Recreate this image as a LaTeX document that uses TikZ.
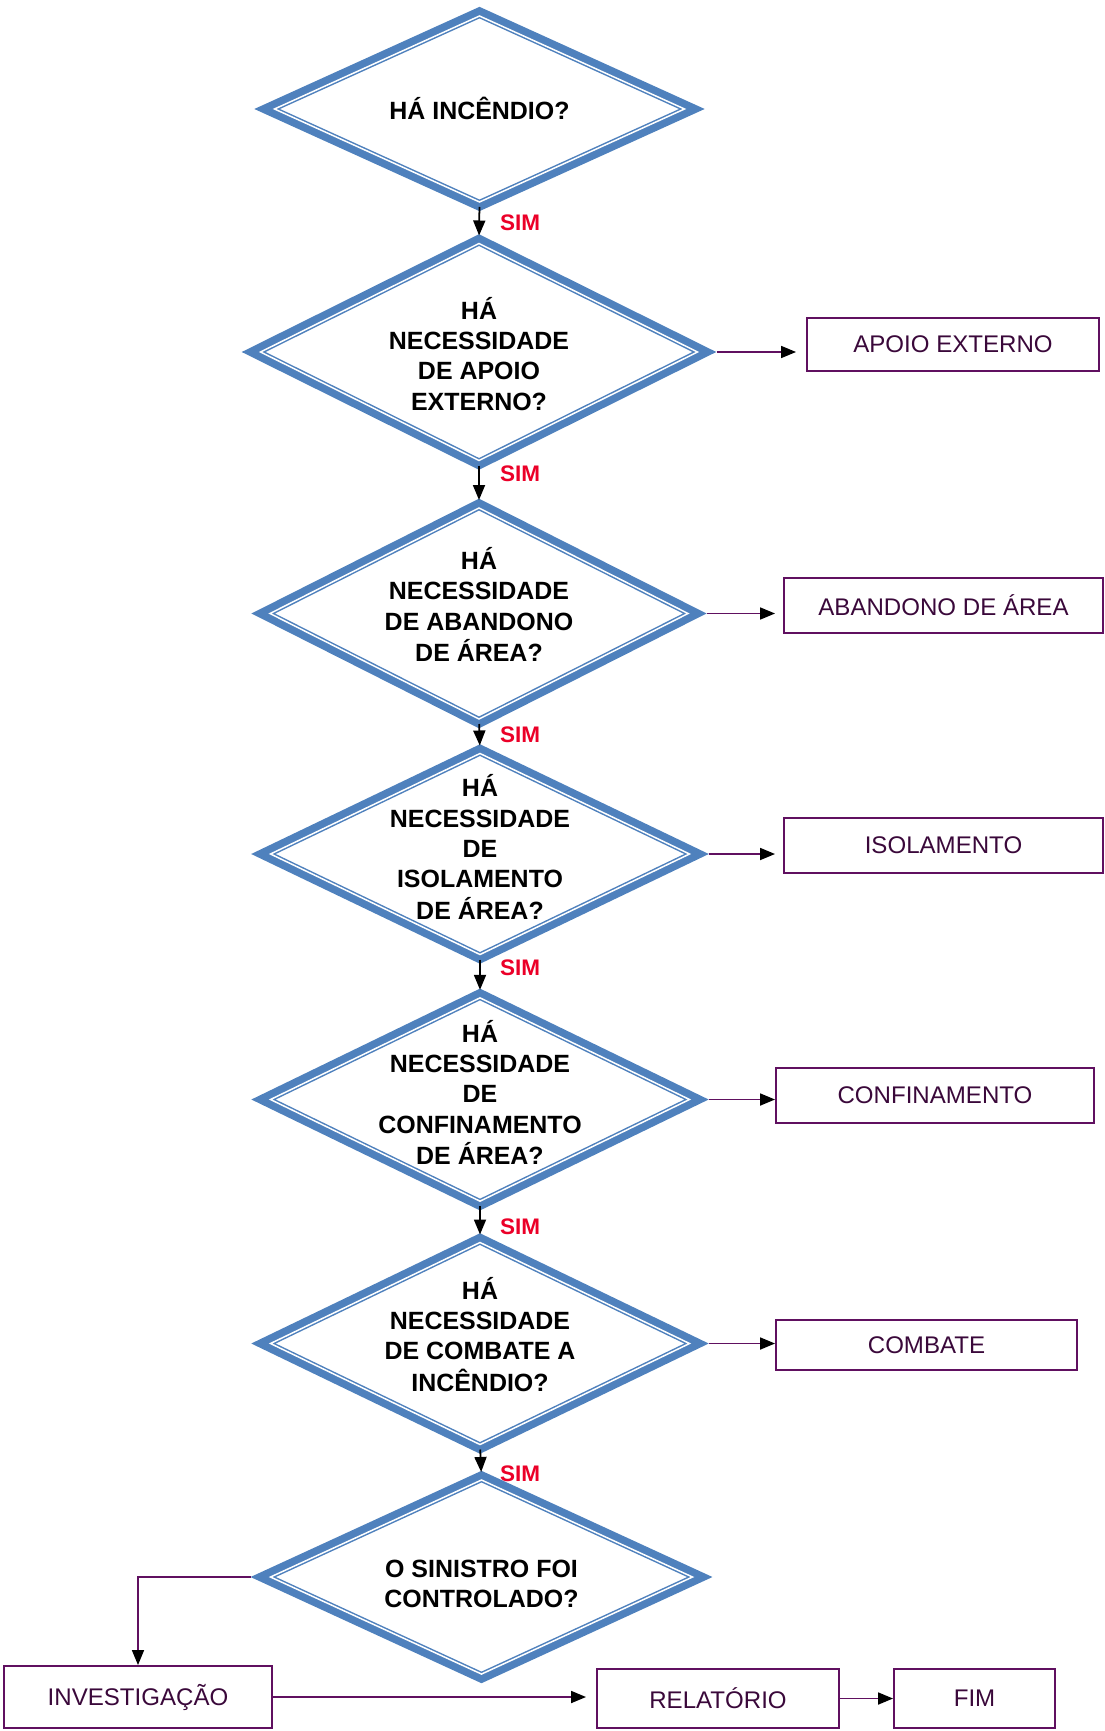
\documentclass[tikz,border=0pt]{standalone}
\usepackage{fontspec}
\setmainfont{Liberation Sans}
\usepackage{tikz}
\usetikzlibrary{positioning,arrows.meta,shapes.geometric}
\definecolor{azul}{RGB}{79,129,189}
\definecolor{roxo}{RGB}{96,16,96}
\definecolor{roxotexto}{RGB}{58,8,58}
\definecolor{vermelho}{RGB}{235,0,40}
\newcommand{\pergunta}[2][-4pt]{\smash{\raisebox{#1}{\begin{tabular}{@{}c@{}}#2\end{tabular}}}}

\begin{document}
\begin{tikzpicture}[>={Triangle[length=3mm,width=2.4mm]},
  decisao/.style={diamond, draw=azul, line width=0.85pt, double=white, double distance=0.85pt,
    fill=white, preaction={draw=azul, line width=9.5pt}, inner sep=0pt, outer sep=0pt,
    font=\bfseries\fontsize{14.2}{17.3}\selectfont},
  acao/.style={draw=roxo, line width=1.1pt, text=roxotexto, inner sep=0pt,
    font=\fontsize{13.7}{16}\selectfont},
  sim/.style={text=vermelho, font=\bfseries\fontsize{12.8}{15}\selectfont},
  seta/.style={->, line width=1pt},
  liga/.style={-{Triangle[length=3mm,width=2.4mm,color=black]}, draw=roxo, line width=1pt}]

\useasboundingbox (0,0) rectangle (22.08,-34.62);

% ---------------- Decisoes ----------------
\node[decisao, minimum width=8.2cm, minimum height=3.72cm] (incendio) at (9.59,-2.18)
  {\pergunta[-5.9pt]{HÁ INCÊNDIO?}};
\node[decisao, minimum width=8.74cm, minimum height=4.34cm] (nApoio) at (9.58,-7.04)
  {\pergunta[-7.1pt]{HÁ\\NECESSIDADE\\DE APOIO\\EXTERNO?}};
\node[decisao, minimum width=8.36cm, minimum height=4.22cm] (nAbandono) at (9.58,-12.27)
  {\pergunta[-0.9pt]{HÁ\\NECESSIDADE\\DE ABANDONO\\DE ÁREA?}};
\node[decisao, minimum width=8.38cm, minimum height=4.02cm] (nIsolamento) at (9.60,-17.08)
  {\pergunta[-2.1pt]{HÁ\\NECESSIDADE\\DE\\ISOLAMENTO\\DE ÁREA?}};
\node[decisao, minimum width=8.38cm, minimum height=4.04cm] (nConfinamento) at (9.60,-21.99)
  {\pergunta[-2.1pt]{HÁ\\NECESSIDADE\\DE\\CONFINAMENTO\\DE ÁREA?}};
\node[decisao, minimum width=8.38cm, minimum height=4.04cm] (nCombate) at (9.60,-26.87)
  {\pergunta[-0.9pt]{HÁ\\NECESSIDADE\\DE COMBATE A\\INCÊNDIO?}};
\node[decisao, minimum width=8.44cm, minimum height=3.54cm] (controlado) at (9.63,-31.54)
  {\pergunta[-9pt]{O SINISTRO FOI\\CONTROLADO?}};

% ---------------- Acoes ----------------
\node[acao, minimum width=5.84cm, minimum height=1.06cm] (apoio) at (19.06,-6.89) {APOIO EXTERNO};
\node[acao, minimum width=6.38cm, minimum height=1.10cm] (abandono) at (18.87,-12.11) {ABANDONO DE ÁREA};
\node[acao, minimum width=6.38cm, minimum height=1.10cm] (isolamento) at (18.87,-16.91) {ISOLAMENTO};
\node[acao, minimum width=6.36cm, minimum height=1.10cm] (confinamento) at (18.70,-21.91) {CONFINAMENTO};
\node[acao, minimum width=6.02cm, minimum height=1.00cm] (combate) at (18.53,-26.90) {COMBATE};
\node[acao, minimum width=5.36cm, minimum height=1.24cm] (investigacao) at (2.76,-33.94) {INVESTIGAÇÃO};
\node[acao, minimum width=4.84cm, minimum height=1.18cm] (relatorio) at (14.36,-33.97) {RELATÓRIO};
\node[acao, minimum width=3.22cm, minimum height=1.18cm] (fim) at (19.49,-33.97) {FIM};

% ---------------- Fluxo SIM ----------------
\draw[seta, shorten <=1mm, shorten >=1.6mm] (incendio.south) -- (nApoio.north);
\draw[seta, shorten <=1mm, shorten >=1.6mm] (nApoio.south) -- (nAbandono.north);
\draw[seta, shorten <=1mm, shorten >=1.6mm] (nAbandono.south) -- (nIsolamento.north);
\draw[seta, shorten <=1mm, shorten >=1.6mm] (nIsolamento.south) -- (nConfinamento.north);
\draw[seta, shorten <=1mm, shorten >=1.6mm] (nConfinamento.south) -- (nCombate.north);
\draw[seta, shorten <=1mm, shorten >=1.6mm] (nCombate.south) -- (controlado.north);

\node[sim] (sim1) at (10.40,-4.46) {SIM};
\node[sim] (sim2) at (10.40,-9.48) {SIM};
\node[sim] (sim3) at (10.40,-14.70) {SIM};
\node[sim] (sim4) at (10.40,-19.36) {SIM};
\node[sim] (sim5) at (10.40,-24.54) {SIM};
\node[sim] (sim6) at (10.40,-29.48) {SIM};

% ---------------- Ligacoes laterais ----------------
\draw[liga, shorten <=3.8mm, shorten >=2mm] (nApoio.east) -- (nApoio.east -| apoio.west);
\draw[liga, shorten <=3.8mm, shorten >=1.6mm] (nAbandono.east) -- (nAbandono.east -| abandono.west);
\draw[liga, shorten <=3.8mm, shorten >=1.6mm] (nIsolamento.east) -- (nIsolamento.east -| isolamento.west);
\draw[liga, shorten <=3.8mm] (nConfinamento.east) -- (nConfinamento.east -| confinamento.west);
\draw[liga, shorten <=3.8mm] (nCombate.east) -- (nCombate.east -| combate.west);

% ---------------- Final ----------------
\draw[liga, shorten <=4mm] (controlado.west) -| (investigacao.north);
\draw[liga, shorten >=2mm] (investigacao.east) -- (investigacao.east -| relatorio.west);
\draw[liga] (relatorio) -- (fim);

\end{tikzpicture}
\end{document}
